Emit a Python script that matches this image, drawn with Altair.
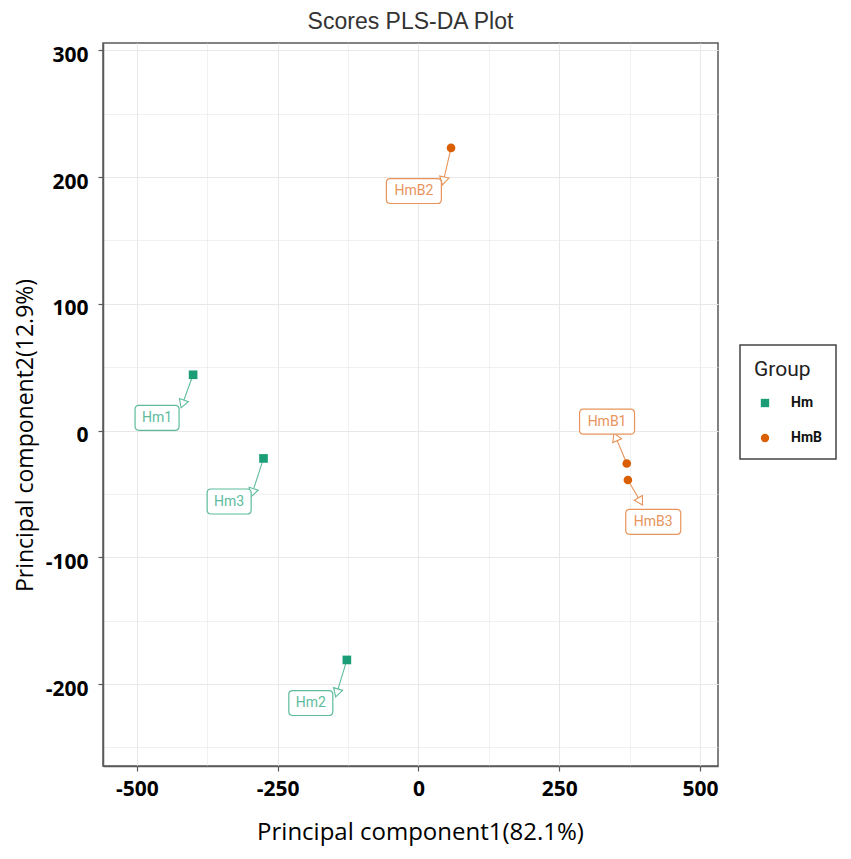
import math
import altair as alt
import pandas as pd

# ---- data ----
samples = ["Hm1", "Hm2", "Hm3", "HmB1", "HmB2", "HmB3"]
groups = ["Hm", "Hm", "Hm", "HmB", "HmB", "HmB"]
pc1 = [-400, -127, -275, 370, 58, 372]
pc2 = [44, -181, -22, -26, 223, -39]
# repelled label positions and arrow-head positions (data units)
label_x = [-464, -191, -336, 335, -8, 417]
label_y = [10, -215, -56, 7, 189, -72]
arrow_x = [-418, -144, -294, 351, 45, 393]
arrow_y = [22, -206, -48, -6, 198, -55]

group_names = ["Hm", "HmB"]
group_colors = ["#1b9e77", "#d95f02"]
label_colors = {"Hm": "#5dbb9c", "HmB": "#e8945a"}

XDOM = [-560, 532]
YDOM = [-264.7, 305.8]
W, H = 615, 723
sx = W / (XDOM[1] - XDOM[0])
sy = H / (YDOM[1] - YDOM[0])

narrow = "M-0.643,-0.446H0.643Q0.786,-0.446 0.786,-0.303V0.303Q0.786,0.446 0.643,0.446H-0.643Q-0.786,0.446 -0.786,0.303V-0.303Q-0.786,-0.446 -0.643,-0.446Z"
wide = "M-0.839,-0.446H0.839Q0.982,-0.446 0.982,-0.303V0.303Q0.982,0.446 0.839,0.446H-0.839Q-0.982,0.446 -0.982,0.303V-0.303Q-0.982,-0.446 -0.839,-0.446Z"

rows = []
for i, s in enumerate(samples):
    dx = (arrow_x[i] - pc1[i]) * sx
    dy = -(arrow_y[i] - pc2[i]) * sy
    ang = math.degrees(math.atan2(dx, -dy)) % 360
    rows.append(dict(
        sample=s, group=groups[i], pc1=pc1[i], pc2=pc2[i],
        lx=label_x[i], ly=label_y[i], ax=arrow_x[i], ay=arrow_y[i],
        ang=ang, lc=label_colors[groups[i]],
        box=wide if len(s) > 3 else narrow,
    ))
df = pd.DataFrame(rows)

xs = alt.Scale(domain=XDOM, nice=False, zero=False)
ys = alt.Scale(domain=YDOM, nice=False, zero=False)

x_axis = alt.Axis(
    values=[-500, -375, -250, -125, 0, 125, 250, 375, 500],
    labelExpr="datum.value % 250 === 0 ? '' + datum.value : ''",
    title="Principal component1(82.1%)",
    titleX=317, titleY=66, titleBaseline="middle", titleAlign="center",
    titleFontSize=24,
    tickOpacity={"condition": {"test": "datum.value % 250 !== 0", "value": 0}, "value": 1},
    gridWidth={"condition": {"test": "datum.value % 250 !== 0", "value": 0.6}, "value": 1.1},
    labelPadding=7,
)
y_axis = alt.Axis(
    values=[-250, -200, -150, -100, -50, 0, 50, 100, 150, 200, 250, 300],
    labelExpr="datum.value % 100 === 0 ? '' + datum.value : ''",
    title="Principal component2(12.9%)",
    titleX=-78, titleY=392, titleBaseline="middle", titleAlign="center", titleAngle=270,
    titleFontSize=23,
    tickOpacity={"condition": {"test": "datum.value % 100 !== 0", "value": 0}, "value": 1},
    gridWidth={"condition": {"test": "datum.value % 100 !== 0", "value": 0.6}, "value": 1.1},
    labelPadding=10, labelOffset=5,
)

base = alt.Chart(df)

segs = base.mark_rule(strokeWidth=1.1).encode(
    x=alt.X("pc1:Q", scale=xs, axis=x_axis),
    y=alt.Y("pc2:Q", scale=ys, axis=y_axis),
    x2="ax:Q", y2="ay:Q",
    color=alt.Color("lc:N", scale=None),
)

heads = base.mark_point(shape="triangle", size=90, fill="white", fillOpacity=1, strokeWidth=1.1).encode(
    x="ax:Q", y="ay:Q",
    angle=alt.Angle("ang:Q", scale=None),
    stroke=alt.Stroke("lc:N", scale=None),
)

boxes = base.mark_point(size=3136, fill="white", fillOpacity=1, strokeWidth=1.2, opacity=1).encode(
    x="lx:Q", y="ly:Q",
    shape=alt.Shape("box:N", scale=None),
    stroke=alt.Stroke("lc:N", scale=None),
)

texts = base.mark_text(font="Roboto", fontSize=14).encode(
    x="lx:Q", y="ly:Q", text="sample:N",
    color=alt.Color("lc:N", scale=None),
)

points = base.mark_point(filled=True, size=75, opacity=1).encode(
    x="pc1:Q", y="pc2:Q",
    color=alt.Color("group:N", scale=alt.Scale(domain=group_names, range=group_colors),
                    legend=alt.Legend(title="Group", orient="none", legendX=637, legendY=302)),
    shape=alt.Shape("group:N", scale=alt.Scale(domain=group_names, range=["square", "circle"]),
                    legend=alt.Legend(title="Group", orient="none", legendX=637, legendY=302)),
)

chart = alt.layer(segs, heads, boxes, texts, points).properties(
    width=W, height=H,
    title="Scores PLS-DA Plot",
    autosize=alt.AutoSizeParams(type="none"),
    padding={"left": 95, "top": 35, "right": 124, "bottom": 85},
).configure_view(
    stroke="#5a5a5a", strokeWidth=1.5, fill="white",
).configure_axis(
    domainColor="#5a5a5a", domainWidth=1.5,
    tickColor="#5a5a5a", tickSize=5, tickWidth=1.2,
    gridColor="#e8e8e8",
    labelFont="Open Sans", labelFontWeight="bold", labelFontSize=21, labelColor="black",
    titleFont="Open Sans", titleFontWeight="normal", titleColor="black",
).configure_title(
    font="Liberation Sans", fontSize=23, fontWeight="normal", color="#333333",
    anchor="middle", offset=9,
).configure_legend(
    strokeColor="#444444", strokeWidth=1.5, padding=14,
    titleFont="Roboto", titleFontSize=21, titleFontWeight="normal", titleColor="#222222",
    titlePadding=16,
    labelFont="Roboto", labelFontSize=14, labelFontWeight="bold", labelColor="#111111",
    symbolSize=70, symbolOffset=4, labelOffset=19, rowPadding=21,
)

chart.save("out.html", embed_options={"renderer": "svg", "actions": False})
